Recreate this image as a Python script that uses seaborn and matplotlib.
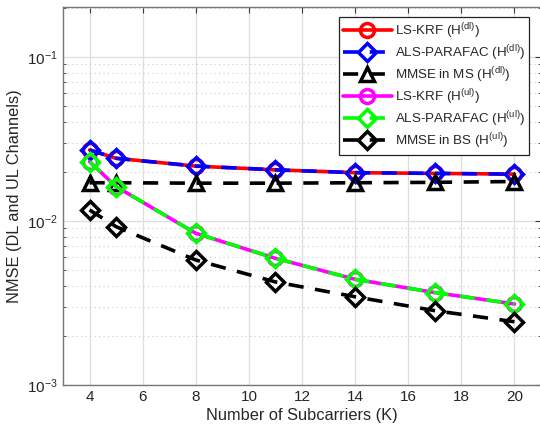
import numpy as np
import pandas as pd
import matplotlib
matplotlib.use('Agg')
import matplotlib.pyplot as plt
import seaborn as sns
from matplotlib.ticker import LogLocator, NullFormatter

# Data
K = [4, 5, 8, 11, 14, 17, 20]
ls_krf_dl = [0.0271, 0.0241, 0.0216, 0.0205, 0.0197, 0.0195, 0.0193]
als_dl = [0.0271, 0.0241, 0.0216, 0.0205, 0.0197, 0.0195, 0.0193]
mmse_ms_dl = [0.0171, 0.0171, 0.0170, 0.0170, 0.0171, 0.0172, 0.0174]
ls_krf_ul = [0.0230, 0.0162, 0.00841, 0.00592, 0.00441, 0.00366, 0.00312]
als_ul = [0.0230, 0.0162, 0.00841, 0.00592, 0.00441, 0.00366, 0.00312]
mmse_bs_ul = [0.01167, 0.00923, 0.00578, 0.00425, 0.00345, 0.00284, 0.00243]

labels = [r'LS-KRF (H$^{\rm (dl)}$)', r'ALS-PARAFAC (H$^{\rm (dl)}$)', r'MMSE in MS (H$^{\rm (dl)}$)',
          r'LS-KRF (H$^{\rm (ul)}$)', r'ALS-PARAFAC (H$^{\rm (ul)}$)', r'MMSE in BS (H$^{\rm (ul)}$)']

sns.set_style('white')
plt.rcParams['font.family'] = ['Liberation Sans', 'DejaVu Sans']
plt.rcParams['mathtext.fontset'] = 'custom'
plt.rcParams['mathtext.rm'] = 'Liberation Sans'
plt.rcParams['mathtext.it'] = 'Liberation Sans:italic'

fig = plt.figure(figsize=(5.4, 4.34), dpi=100)
ax = fig.add_axes([63 / 540, 49 / 434, 478 / 540, 378.5 / 434])

dash = (0, (4.2, 3.2))
series = [
    (ls_krf_dl, 'red', 'o', '-'),
    (als_dl, 'blue', 'D', dash),
    (mmse_ms_dl, 'black', '^', dash),
    (ls_krf_ul, 'magenta', 'o', '-'),
    (als_ul, '#00ff00', 'D', dash),
    (mmse_bs_ul, 'black', 'D', dash),
]
for (vals, col, mk, ls), lab in zip(series, labels):
    sns.lineplot(x=K, y=vals, ax=ax, color=col, marker=mk, linestyle=ls,
                 linewidth=2.6, markersize=10 if mk != 'D' else 9,
                 markerfacecolor='none', markeredgecolor=col, markeredgewidth=2.5,
                 label=lab)

ax.set_yscale('log')
ax.set_xlim(3, 21)
ax.set_ylim(1e-3, 0.203)
ax.set_xticks(range(4, 21, 2))
ax.yaxis.set_major_locator(LogLocator(base=10, numticks=10))
ax.yaxis.set_minor_locator(LogLocator(base=10, subs=np.arange(2, 10), numticks=20))
ax.yaxis.set_minor_formatter(NullFormatter())

ax.grid(which='major', color='#dedede', linewidth=0.9, linestyle='-')
ax.grid(which='minor', axis='y', color='#cccccc', linewidth=0.8, linestyle=(0, (1, 3)))
ax.set_axisbelow(True)

for s in ax.spines.values():
    s.set_color('#767676')
    s.set_linewidth(1.0)
ax.tick_params(which='both', direction='in', top=True, right=True, color='#3a3a3a',
               labelcolor='#262626', labelsize=11)
ax.tick_params(which='major', length=4)
ax.tick_params(which='minor', length=2.5, left=True, right=True)

ax.set_xlabel('Number of Subcarriers (K)', fontsize=11.8, color='#262626', labelpad=3)
ax.set_ylabel('NMSE (DL and UL Channels)', fontsize=11.8, color='#262626', labelpad=4)

leg = ax.legend(loc='upper right', bbox_to_anchor=(0.975, 0.972), borderaxespad=0,
                fontsize=9.6, handlelength=3.7, labelspacing=0.18, handletextpad=0.2,
                borderpad=0.3, fancybox=False, framealpha=1, edgecolor='#222222')
leg.get_frame().set_linewidth(0.9)

fig.savefig('out.png', dpi=100)
